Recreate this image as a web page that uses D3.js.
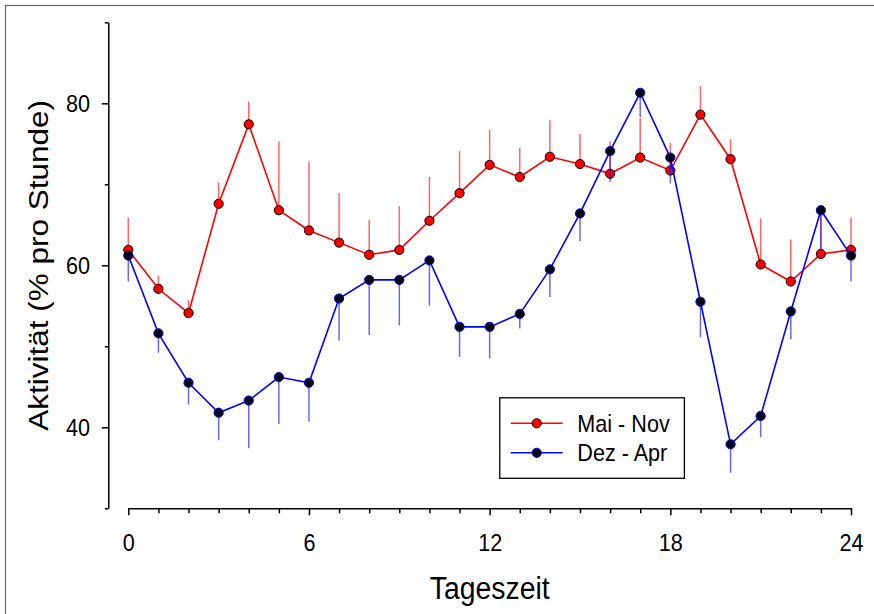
<!DOCTYPE html>
<html>
<head>
<meta charset="utf-8">
<script src="https://cdn.jsdelivr.net/npm/d3@7"></script>
<style>
  html, body { margin: 0; padding: 0; background: #fff; }
  svg { display: block; font-family: "Liberation Sans", Arial, sans-serif; }
</style>
</head>
<body>
<svg id="chart" width="874" height="614"></svg>
<script>
// hours of the day (0 and 24 show the same values)
const hours = [0, 1, 2, 3, 4, 5, 6, 7, 8, 9, 10, 11, 12, 13, 14, 15, 16, 17, 18, 19, 20, 21, 22, 23, 24];

// Mai - Nov: mean activity and upward error
const maiNov = [61.9, 57.1, 54.1, 67.6, 77.4, 66.8, 64.3, 62.8, 61.3, 61.9, 65.5, 68.9, 72.4,
                70.9, 73.4, 72.5, 71.3, 73.3, 71.7, 78.6, 73.1, 60.1, 58.0, 61.4, 61.9];
const maiNovErr = [4.0, 1.6, 1.6, 2.6, 2.8, 8.5, 8.5, 6.1, 4.3, 5.4, 5.4, 5.2, 4.3,
                   3.6, 4.5, 3.7, 4.0, 4.9, 3.4, 3.5, 2.5, 5.7, 5.2, 5.2, 4.0];

// Dez - Apr: mean activity and downward error
const dezApr = [61.2, 51.6, 45.5, 41.8, 43.3, 46.2, 45.5, 55.9, 58.2, 58.2, 60.6, 52.4, 52.4,
                54.0, 59.5, 66.4, 74.1, 81.3, 73.3, 55.5, 37.9, 41.4, 54.3, 66.8, 61.2];
const dezAprErr = [3.2, 2.4, 2.7, 3.4, 5.9, 5.8, 4.8, 5.2, 6.8, 5.6, 5.6, 3.7, 3.9,
                   1.8, 3.4, 3.4, 3.8, 3.0, 3.2, 4.4, 3.5, 2.6, 3.4, 4.8, 3.2];

const xMajor = [0, 6, 12, 18, 24];
const yMajor = [40, 60, 80];
const yMinor = [30, 50, 70, 90];

const xTitle = "Tageszeit";
const yTitle = "Aktivität (% pro Stunde)";

const series = [
  {name: "Mai - Nov", values: maiNov, err: maiNovErr, dir: 1, color: "#ff0000", fill: "#ff0000", ring: "#000"},
  {name: "Dez - Apr", values: dezApr, err: dezAprErr, dir: -1, color: "#0000ff", fill: "#000", ring: "#0000ff"}
];

const svg = d3.select("#chart");
const squeeze = "scale(0.9,1)"; // source text is a bit narrow

// outer frame (right/bottom edges fall outside the picture)
svg.append("rect")
  .attr("x", 5.5).attr("y", 5.5)
  .attr("width", 880).attr("height", 620)
  .attr("fill", "none").attr("stroke", "#666").attr("stroke-width", 1.2);

const x = d3.scaleLinear().domain([0, 24]).range([128.3, 851]);
const y = d3.scaleLinear().domain([30, 90]).range([508.3, 22.3]);

// y axis
const yAxisG = svg.append("g").attr("transform", "translate(108.3,0)");
yAxisG.call(d3.axisLeft(y).tickValues(yMajor).tickSize(6.5).tickSizeOuter(0).tickFormat(d3.format("d")));
yAxisG.append("g").call(d3.axisLeft(y).tickValues(yMinor).tickSize(3.5).tickSizeOuter(0).tickFormat(""))
  .select(".domain").remove();
yAxisG.selectAll("text")
  .attr("x", -18.3 / 0.9)
  .attr("dy", "0.36em")
  .attr("transform", squeeze)
  .style("font-size", "24px")
  .style("font-family", "'Liberation Sans', Arial, sans-serif")
  .attr("fill", "#000");

// x axis
const xAxisG = svg.append("g").attr("transform", "translate(0,508.3)");
xAxisG.call(d3.axisBottom(x).tickValues(xMajor).tickSize(7).tickSizeOuter(0).tickFormat(d3.format("d")));
xAxisG.append("g").call(d3.axisBottom(x).tickValues(hours.filter(h => xMajor.indexOf(h) < 0)).tickSize(5).tickSizeOuter(0).tickFormat(""))
  .select(".domain").remove();
xAxisG.selectAll("text")
  .attr("y", 42.7)
  .attr("dy", 0)
  .attr("transform", squeeze)
  .style("font-size", "24px")
  .style("font-family", "'Liberation Sans', Arial, sans-serif")
  .attr("fill", "#000");

svg.selectAll(".domain, .tick line").attr("stroke", "#000").attr("stroke-width", 1.5);

// axis titles
svg.append("text")
  .attr("transform", "translate(48,265.3) " + squeeze + " rotate(-90)")
  .attr("text-anchor", "middle")
  .style("font-size", "31.5px")
  .text(yTitle);

svg.append("text")
  .attr("transform", "translate(489.7,599) " + squeeze)
  .attr("text-anchor", "middle")
  .style("font-size", "31.5px")
  .text(xTitle);

// data
const line = d3.line().x(d => x(d[0])).y(d => y(d[1]));

series.forEach(s => {
  const pts = hours.map((h, i) => [h, s.values[i], s.err[i]]);
  const g = svg.append("g");

  g.selectAll("line.err").data(pts).enter().append("line")
    .attr("class", "err")
    .attr("x1", d => x(d[0])).attr("x2", d => x(d[0]))
    .attr("y1", d => y(d[1]))
    .attr("y2", d => y(d[1] + s.dir * d[2]))
    .attr("stroke", s.color).attr("stroke-width", 1.5).attr("stroke-opacity", 0.6);

  g.append("path").datum(pts)
    .attr("d", line)
    .attr("fill", "none").attr("stroke", s.color).attr("stroke-width", 1.6);

  g.selectAll("circle").data(pts).enter().append("circle")
    .attr("cx", d => x(d[0])).attr("cy", d => y(d[1]))
    .attr("r", 4.6)
    .attr("fill", s.fill).attr("stroke", s.ring).attr("stroke-width", 1);
});

// legend
const legend = svg.append("g");
legend.append("rect")
  .attr("x", 499.8).attr("y", 397.8)
  .attr("width", 184.6).attr("height", 80.5)
  .attr("fill", "#fff").attr("stroke", "#000").attr("stroke-width", 1.3);

series.forEach((s, i) => {
  const ly = 423.3 + i * 29.5;
  legend.append("line")
    .attr("x1", 510.7).attr("x2", 562.7).attr("y1", ly).attr("y2", ly)
    .attr("stroke", s.color).attr("stroke-width", 1.6);
  legend.append("circle")
    .attr("cx", 536.7).attr("cy", ly).attr("r", 4.6)
    .attr("fill", s.fill).attr("stroke", s.ring).attr("stroke-width", 1);
  legend.append("text")
    .attr("transform", "translate(577.3," + ly + ") " + squeeze)
    .attr("dy", "0.36em")
    .style("font-size", "24px")
    .text(s.name);
});
</script>
</body>
</html>
